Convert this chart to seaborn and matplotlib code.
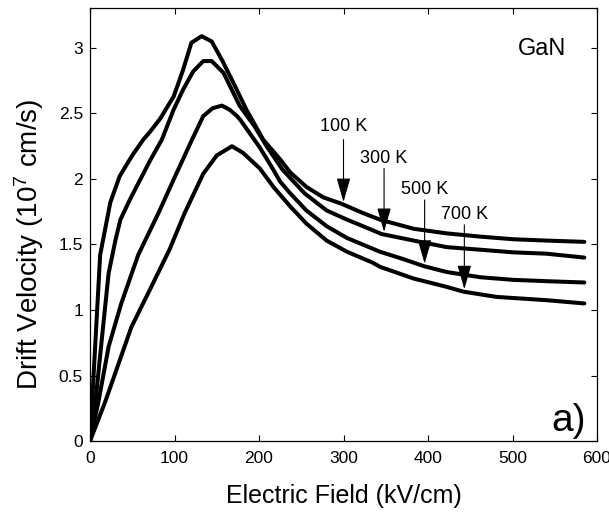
import numpy as np
import pandas as pd
import matplotlib
matplotlib.use("Agg")
import matplotlib.pyplot as plt
import seaborn as sns

# Electron drift velocity in GaN vs. electric field, four lattice temperatures
field_100K = [0, 12, 24, 35, 50, 63, 71, 83, 99, 110, 120, 132, 144, 156, 170, 185,
              205, 225, 237, 256, 276, 298, 323, 343, 383, 422, 462, 501, 540, 585]
vel_100K = [0, 1.42, 1.82, 2.02, 2.18, 2.30, 2.36, 2.46, 2.63, 2.83, 3.04, 3.09, 3.05, 2.91,
            2.73, 2.53, 2.30, 2.15, 2.05, 1.94, 1.86, 1.81, 1.74, 1.69, 1.62, 1.585, 1.56,
            1.54, 1.53, 1.52]

field_300K = [0, 6, 14, 22, 30, 36, 47, 71, 85, 99, 110, 122, 134, 144, 158, 177, 195,
              209, 228, 254, 280, 304, 323, 345, 383, 422, 462, 501, 540, 585]
vel_300K = [0, 0.27, 0.78, 1.28, 1.53, 1.69, 1.84, 2.14, 2.30, 2.53, 2.68, 2.82, 2.90, 2.90,
            2.81, 2.56, 2.40, 2.25, 2.07, 1.89, 1.76, 1.69, 1.64, 1.58, 1.53, 1.48, 1.46,
            1.44, 1.43, 1.40]

field_500K = [0, 10, 22, 37, 57, 81, 100, 120, 134, 145, 156, 165, 174, 178, 201, 217,
              225, 237, 256, 280, 304, 343, 370, 395, 422, 462, 501, 540, 585]
vel_500K = [0, 0.30, 0.72, 1.05, 1.42, 1.74, 2.01, 2.29, 2.48, 2.54, 2.56, 2.53, 2.48, 2.45,
            2.24, 2.07, 1.98, 1.89, 1.76, 1.64, 1.55, 1.445, 1.39, 1.335, 1.29, 1.25, 1.23,
            1.22, 1.21]

field_700K = [0, 18, 49, 72, 94, 112, 134, 150, 168, 181, 201, 217, 237, 256, 280, 304,
              335, 343, 383, 420, 442, 481, 540, 585]
vel_700K = [0, 0.30, 0.87, 1.17, 1.46, 1.74, 2.04, 2.18, 2.25, 2.20, 2.08, 1.94, 1.79, 1.66,
            1.53, 1.445, 1.36, 1.33, 1.24, 1.18, 1.14, 1.10, 1.075, 1.05]

temp_labels = ["100 K", "300 K", "500 K", "700 K"]
arrow_x = [300, 348, 396, 443]

series = [(field_100K, vel_100K), (field_300K, vel_300K),
          (field_500K, vel_500K), (field_700K, vel_700K)]

frames = []
for lab, (fx, vy) in zip(temp_labels, series):
    frames.append(pd.DataFrame({"field": fx, "velocity": vy, "T": lab}))
df = pd.concat(frames, ignore_index=True)

sns.set_style("ticks")
plt.rcParams["font.family"] = ["Liberation Sans", "DejaVu Sans"]
plt.rcParams["mathtext.default"] = "regular"
plt.rcParams["text.color"] = "black"
plt.rcParams["axes.labelcolor"] = "black"
plt.rcParams["xtick.color"] = "black"
plt.rcParams["ytick.color"] = "black"

fig = plt.figure(figsize=(6.09, 5.14), dpi=100)
ax = fig.add_axes([0.1478, 0.142, 0.8325, 0.8424])

sns.lineplot(data=df, x="field", y="velocity", hue="T", palette=["black"] * 4,
             estimator=None, sort=False, legend=False, lw=2.9, ax=ax)

ax.set_xlim(0, 600)
ax.set_ylim(0, 3.305)
ax.set_xticks([0, 100, 200, 300, 400, 500, 600])
ax.set_xticklabels(["0", "100", "200", "300", "400", "500", "600"])
ax.set_yticks([0, 0.5, 1, 1.5, 2, 2.5, 3])
ax.set_yticklabels(["0", "0.5", "1", "1.5", "2", "2.5", "3"])
ax.tick_params(direction="in", length=4, width=0.8, top=True, right=True,
               labelsize=12.5, colors="black")
ax.tick_params(axis="x", pad=7)
ax.tick_params(axis="y", pad=5)
for s in ax.spines.values():
    s.set_linewidth(0.9)
    s.set_color("black")

ax.set_xlabel("Electric Field (kV/cm)", fontsize=18, color="black")
ax.set_ylabel("Drift Velocity (10$^7$ cm/s)", fontsize=20, color="black")
ax.xaxis.set_label_coords(0.5, -0.10)
ax.yaxis.set_label_coords(-0.087, 0.455)

# temperature labels with arrows pointing at each curve
interp_curves = [np.interp(xa, fx, vy) for xa, (fx, vy) in zip(arrow_x, series)]
arrow_top = [2.30, 2.08, 1.84, 1.65]
label_y = [2.40, 2.16, 1.92, 1.73]
for xa, ytip, ytop, ly, lab in zip(arrow_x, interp_curves, arrow_top, label_y, temp_labels):
    ax.annotate("", xy=(xa, ytip + 0.02), xytext=(xa, ytop),
                arrowprops=dict(arrowstyle="-|>,head_length=15,head_width=4.3",
                                mutation_scale=1, lw=0.8, color="black",
                                shrinkA=0, shrinkB=0))
    ax.text(xa, ly, lab, ha="center", va="center", fontsize=13, color="black")

ax.text(535, 2.99, "GaN", ha="center", va="center", fontsize=17, color="black")
ax.text(566, 0.15, "a)", ha="center", va="center", fontsize=28, color="black")

fig.savefig("out.png", dpi=100)
